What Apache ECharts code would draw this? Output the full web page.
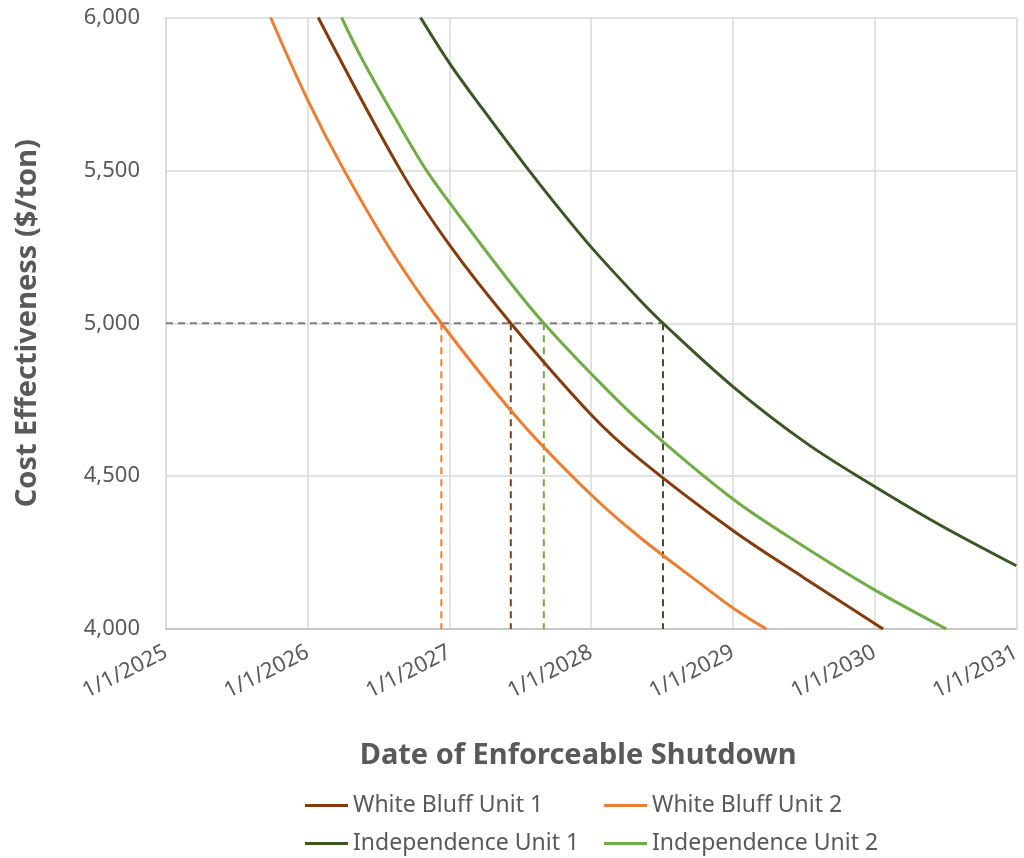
<!DOCTYPE html>
<html>
<head>
<meta charset="utf-8">
<script src="https://cdn.jsdelivr.net/npm/echarts@6/dist/echarts.min.js"></script>
<style>html,body{margin:0;padding:0;background:#fff}#c{width:1024px;height:858px}</style>
</head>
<body>
<div id="c"></div>
<script>
// Data (x = decimal year, y = $/ton)
const seriesNames = ['White Bluff Unit 1', 'White Bluff Unit 2', 'Independence Unit 1', 'Independence Unit 2'];
const whiteBluff1 = [[2026.074,6000],[2026.655,5500],[2027.0,5256],[2027.433,5000],[2028.0,4701],[2028.343,4555],[2029.0,4322],[2029.5,4168],[2030.06,4000]];
const whiteBluff2 = [[2025.738,6000],[2026.0,5730],[2026.257,5500],[2026.6,5229],[2026.943,5000],[2027.5,4679],[2028.0,4439],[2028.343,4300],[2028.766,4150],[2029.0,4069],[2029.236,4000]];
const independence1 = [[2026.796,6000],[2027.0,5851],[2027.226,5706],[2027.539,5513],[2027.743,5393],[2028.0,5249],[2028.343,5076],[2028.507,5000],[2029.0,4793],[2029.518,4608],[2030.0,4466],[2030.458,4341],[2031.0,4207]];
const independence2 = [[2026.239,6000],[2026.387,5861],[2026.65,5645],[2026.838,5500],[2027.0,5395],[2027.426,5135],[2027.666,5000],[2028.0,4835],[2028.343,4679],[2029.0,4425],[2029.518,4265],[2030.0,4128],[2030.506,4000]];
const thresholdValue = 5000;
const crossingYears = [2027.433, 2026.943, 2028.507, 2027.666]; // same order as seriesNames
const yTicks = [4000, 4500, 5000, 5500, 6000];
const xYears = [2025, 2026, 2027, 2028, 2029, 2030, 2031];

const colors = ['#843C0C', '#ED7D31', '#385723', '#70AD47'];
const curves = [whiteBluff1, whiteBluff2, independence1, independence2];
const FONT = 'Noto Sans';
const GRAY = '#595959';

const series = [];
series.push({
  type: 'line', silent: true, symbol: 'none', z: 1,
  data: [[xYears[0], thresholdValue], [Math.max(...crossingYears), thresholdValue]],
  lineStyle: { color: '#7F7F7F', width: 2, type: [7, 5] }
});
crossingYears.forEach((yr, i) => {
  series.push({
    type: 'line', silent: true, symbol: 'none', z: 1,
    data: [[yr, thresholdValue], [yr, yTicks[0]]],
    lineStyle: { color: colors[i], width: 2, type: [7, 5] }
  });
});
curves.forEach((d, i) => {
  series.push({
    name: seriesNames[i], type: 'line', data: d, symbol: 'none', smooth: 0.35, z: 3,
    lineStyle: { color: colors[i], width: 3 }, itemStyle: { color: colors[i] }
  });
});

const legendPos = [[300, 789], [599, 789], [300, 827], [599, 827]];
const legends = seriesNames.map((n, i) => ({
  data: [n], left: legendPos[i][0], top: legendPos[i][1],
  icon: 'rect', itemWidth: 43, itemHeight: 3,
  textStyle: { fontFamily: FONT, fontSize: 23, color: GRAY }
}));

const chart = echarts.init(document.getElementById('c'), null, { renderer: 'canvas' });
chart.setOption({
  animation: false,
  backgroundColor: '#fff',
  grid: { left: 166, right: 7, top: 17.5, bottom: 229, containLabel: false },
  legend: legends,
  xAxis: {
    type: 'value', min: xYears[0], max: xYears[xYears.length - 1], interval: 1,
    name: 'Date of Enforceable Shutdown', nameLocation: 'middle', nameGap: 112,
    nameTextStyle: { fontFamily: FONT, fontSize: 29, fontWeight: 'bold', color: GRAY, padding: [0, 26, 0, 0] },
    axisLine: { show: true, lineStyle: { color: '#BFBFBF', width: 1.5 } },
    axisTick: { show: false },
    axisLabel: { formatter: v => '1/1/' + v, rotate: 27, margin: 22, fontFamily: FONT, fontSize: 22, color: GRAY },
    splitLine: { show: true, lineStyle: { color: '#D9D9D9', width: 1.5 } }
  },
  yAxis: {
    type: 'value', min: yTicks[0], max: yTicks[yTicks.length - 1], interval: 500,
    name: 'Cost Effectiveness ($/ton)', nameLocation: 'middle', nameGap: 124,
    nameTextStyle: { fontFamily: FONT, fontSize: 29, fontWeight: 'bold', color: GRAY },
    axisLine: { show: true, lineStyle: { color: '#D9D9D9', width: 1.5 } },
    axisTick: { show: false },
    axisLabel: { formatter: v => v.toLocaleString('en-US'), margin: 26, fontFamily: FONT, fontSize: 22, color: GRAY },
    splitLine: { show: true, lineStyle: { color: '#D9D9D9', width: 1.5 } }
  },
  series: series
});
</script>
</body>
</html>
